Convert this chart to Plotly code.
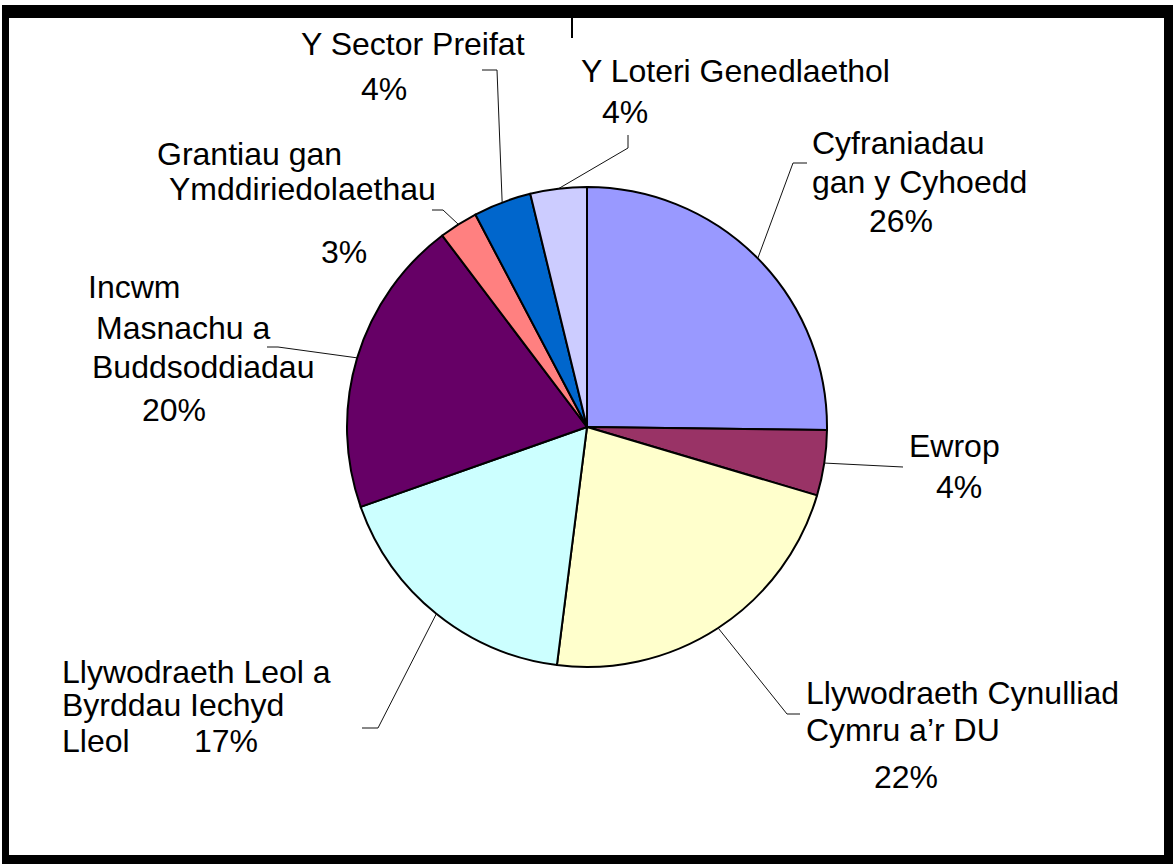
import math
import plotly.graph_objects as go

# ---------------- data ----------------
categories = [
    "Cyfraniadau<br>gan y Cyhoedd",
    "Ewrop",
    "Llywodraeth Cynulliad<br>Cymru a’r DU",
    "Llywodraeth Leol a<br>Byrddau Iechyd<br>Lleol",
    "Incwm<br>Masnachu a<br>Buddsoddiadau",
    "Grantiau gan<br>Ymddiriedolaethau",
    "Y Sector Preifat",
    "Y Loteri Genedlaethol",
]
values = [25.2, 4.4, 22.4, 17.6, 20.1, 2.6, 3.9, 3.8]
pct_labels = ["26%", "4%", "22%", "17%", "20%", "3%", "4%", "4%"]
colors = ["#9999FF", "#993366", "#FFFFCC", "#CCFFFF", "#660066", "#FF8080", "#0066CC", "#CCCCFF"]

# ---------------- layout geometry (pixels) ----------------
W, H = 1173, 864
CX, CY, R = 587, 427, 240

def px(x):
    return x / W

def py(y):
    return 1 - y / H

# positions of each label line (left x, vertical centre y) and of the percentage
line_pos = [
    [(813, 143), (813, 182)],
    [(910, 446)],
    [(807, 693), (807, 730)],
    [(63, 672), (63, 705), (63, 741)],
    [(89, 287), (97, 328), (93, 367)],
    [(158, 154), (170, 189)],
    [(302, 44)],
    [(582, 71)],
]
pct_pos = [(870, 221), (937, 487), (875, 777), (195, 741), (143, 410), (322, 252), (362, 89), (603, 112)]
# leader elbows (from slice mid point on the rim, through these points)
leader_pts = [
    [(793, 163), (807, 163)],
    [(903, 467)],
    [(787, 714), (800, 714)],
    [(378, 728), (362, 728)],
    [(278, 347), (267, 347)],
    [(443, 210), (432, 210)],
    [(497, 70), (482, 70)],
    [(628, 148), (628, 135)],
]

FONT = "Liberation Sans, Arial, sans-serif"
FS = 32
XOFF = -3

fig = go.Figure(
    go.Pie(
        labels=[c.replace("<br>", " ") for c in categories],
        values=values,
        sort=False,
        direction="clockwise",
        rotation=0,
        marker=dict(colors=colors, line=dict(color="black", width=2)),
        textinfo="none",
        hoverinfo="label+percent",
        showlegend=False,
        domain=dict(x=[px(CX - R), px(CX + R)], y=[py(CY + R), py(CY - R)]),
    )
)

annotations = []
shapes = []
total = sum(values)
cum = 0.0
for i, (cat, v) in enumerate(zip(categories, values)):
    mid = (cum + v / 2) / total * 2 * math.pi
    cum += v
    sx = CX + R * math.sin(mid)
    sy = CY - R * math.cos(mid)
    pts = [(sx, sy)] + leader_pts[i]
    path = "M " + " L ".join(f"{px(x)},{py(y)}" for x, y in pts)
    shapes.append(dict(type="path", xref="paper", yref="paper", path=path,
                       line=dict(color="#111111", width=1)))
    for line, (lx, ly) in zip(cat.split("<br>"), line_pos[i]):
        annotations.append(dict(text=line, x=px(lx + XOFF), y=py(ly), xref="paper", yref="paper",
                                xanchor="left", yanchor="middle", showarrow=False,
                                font=dict(family=FONT, size=FS, color="black")))
    qx, qy = pct_pos[i]
    annotations.append(dict(text=pct_labels[i], x=px(qx + XOFF), y=py(qy), xref="paper", yref="paper",
                            xanchor="left", yanchor="middle", showarrow=False,
                            font=dict(family=FONT, size=FS, color="black")))

# stray tick at top
shapes.append(dict(type="line", xref="paper", yref="paper", x0=px(572), x1=px(572), y0=py(18), y1=py(38),
                   line=dict(color="black", width=2)))

# black frame
frame = [(2, 5, 1173, 18), (2, 5, 9, 864), (1164, 5, 1173, 864), (2, 855, 1173, 864)]
for x0, y0, x1, y1 in frame:
    shapes.append(dict(type="rect", xref="paper", yref="paper", x0=px(x0), x1=px(x1), y0=py(y1), y1=py(y0),
                       fillcolor="black", line=dict(width=0)))

fig.update_layout(
    width=W, height=H,
    margin=dict(l=0, r=0, t=0, b=0),
    paper_bgcolor="white", plot_bgcolor="white",
    annotations=annotations, shapes=shapes,
)

fig.write_html("out.html", config={"displayModeBar": False},
               post_script="document.body.style.margin='0';")
